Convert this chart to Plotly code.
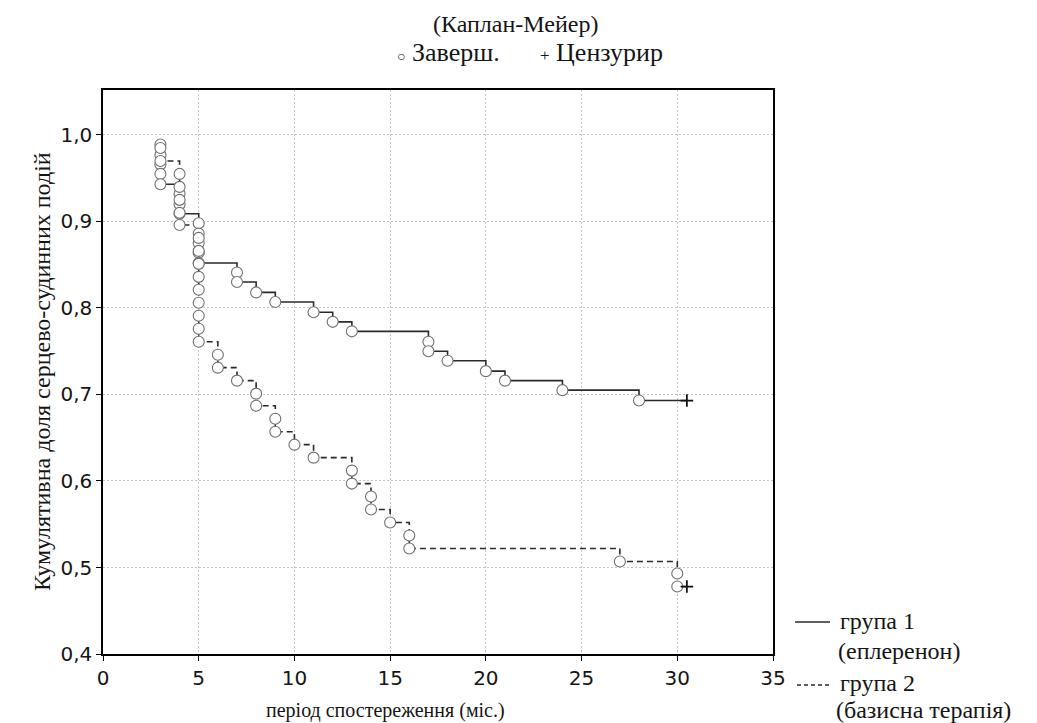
import plotly.graph_objects as go

# ---- data ----
g1_times = [3, 3, 3, 3, 3, 4, 4, 4, 5, 5, 5, 5, 5, 7, 7, 8, 9, 11, 12, 13, 17, 17, 18, 20, 21, 24, 28]
g1_surv = [0.989, 0.977, 0.966, 0.955, 0.943, 0.932, 0.920, 0.909, 0.898, 0.886, 0.875, 0.864, 0.852,
           0.841, 0.830, 0.818, 0.807, 0.795, 0.784, 0.773, 0.761, 0.750, 0.739, 0.727, 0.716, 0.705, 0.693]
g1_censor_time = [30.5]
g1_censor_surv = [0.693]

g2_times = [3, 3, 4, 4, 4, 4, 4, 5, 5, 5, 5, 5, 5, 5, 5, 5, 6, 6, 7, 8, 8, 9, 9, 10, 11, 13, 13, 14, 14,
            15, 16, 16, 27, 30, 30]
g2_surv = [0.985, 0.970, 0.955, 0.940, 0.925, 0.910, 0.896, 0.881, 0.866, 0.851, 0.836, 0.821, 0.806,
           0.791, 0.776, 0.761, 0.746, 0.731, 0.716, 0.701, 0.687, 0.672, 0.657, 0.642, 0.627, 0.612,
           0.597, 0.582, 0.567, 0.552, 0.537, 0.522, 0.507, 0.493, 0.478]
g2_censor_time = [30.5]
g2_censor_surv = [0.478]

x_ticks = [0, 5, 10, 15, 20, 25, 30, 35]
y_ticks = [0.4, 0.5, 0.6, 0.7, 0.8, 0.9, 1.0]
y_tick_labels = ["0,4", "0,5", "0,6", "0,7", "0,8", "0,9", "1,0"]

group_names = ["група 1", "група 2"]
group_subnames = ["(еплеренон)", "(базисна терапія)"]

SERIF = "Liberation Serif, Times New Roman, serif"
TICKFONT = "DejaVu Sans, Arial, sans-serif"
LINE_COL = "#2a2a2a"
CIRC_COL = "#707070"
TXT = "#151515"

# page geometry (figure sits at an 8px body offset in the page)
OFF = 8
W, H = 1037 - OFF, 723 - OFF
PX0, PX1, PY0, PY1 = 103, 773, 90, 654   # plot frame in page pixels
L, T = PX0 - OFF, PY0 - OFF
pw, ph = PX1 - PX0, PY1 - PY0
R, B = W - L - pw, H - T - ph


def px(x):
    return (x - PX0) / pw


def py(y):
    return (PY1 - y) / ph


fig = go.Figure()

# step lines
fig.add_trace(go.Scatter(x=g1_times + g1_censor_time, y=g1_surv + g1_censor_surv, mode="lines",
                         line=dict(shape="hv", color=LINE_COL, width=1.6), hoverinfo="skip"))
fig.add_trace(go.Scatter(x=g2_times + g2_censor_time, y=g2_surv + g2_censor_surv, mode="lines",
                         line=dict(shape="hv", color=LINE_COL, width=1.6, dash="6px,4px"), hoverinfo="skip"))

# event circles
for t, s in [(g1_times, g1_surv), (g2_times, g2_surv)]:
    fig.add_trace(go.Scatter(x=t, y=s, mode="markers",
                             marker=dict(symbol="circle", size=11, color="white",
                                         line=dict(color=CIRC_COL, width=1.1))))

# censored marks
fig.add_trace(go.Scatter(x=g1_censor_time + g2_censor_time, y=g1_censor_surv + g2_censor_surv,
                         mode="markers",
                         marker=dict(symbol="cross-thin", size=9, line=dict(color="#111", width=1.8))))

axis_common = dict(showgrid=True, gridcolor="#c4c4c4", griddash="2px,2px", gridwidth=1,
                   showline=True, mirror=True, linecolor="black", linewidth=1.5,
                   ticks="outside", ticklen=5, tickcolor="black",
                   tickfont=dict(family=TICKFONT, size=20, color=TXT), zeroline=False)

fig.update_layout(
    width=W, height=H,
    margin=dict(l=L, r=R, t=T, b=B, pad=0),
    paper_bgcolor="white", plot_bgcolor="white",
    showlegend=False,
    xaxis=dict(range=[0, 35], tickvals=x_ticks, ticktext=[str(v) for v in x_ticks], **axis_common),
    yaxis=dict(range=[0.4, 1.052], tickvals=y_ticks, ticktext=y_tick_labels, **axis_common),
)


def text(t, x, y, size, anchor="center", angle=0):
    fig.add_annotation(text=t, x=px(x), y=py(y), xref="paper", yref="paper",
                       xanchor=anchor, yanchor="middle", textangle=angle, showarrow=False,
                       font=dict(family=SERIF, size=size, color=TXT))


text("(Каплан-Мейер)", 516, 24, 24)
text("<span style='font-size:14px'>○</span> Заверш.", 395, 52, 26, anchor="left")
text("<span style='font-size:17px'>+</span> Цензурир", 538, 52, 26, anchor="left")
text("період спостереження (міс.)", 385, 711, 20)
text("Кумулятивна доля серцево-судинних подій", 42, 372, 24, angle=-90)
text(group_names[0], 838, 621, 24, anchor="left")
text(group_subnames[0], 836, 651, 24, anchor="left")
text(group_names[1], 838, 683, 24, anchor="left")
text(group_subnames[1], 834, 710, 24, anchor="left")

# legend line samples
fig.add_shape(type="line", xref="paper", yref="paper",
              x0=px(795), x1=px(830), y0=py(622), y1=py(622),
              line=dict(color=LINE_COL, width=1.5))
fig.add_shape(type="line", xref="paper", yref="paper",
              x0=px(797), x1=px(830), y0=py(685), y1=py(685),
              line=dict(color=LINE_COL, width=1.5, dash="4px,3px"))

fig.write_html("out.html")
